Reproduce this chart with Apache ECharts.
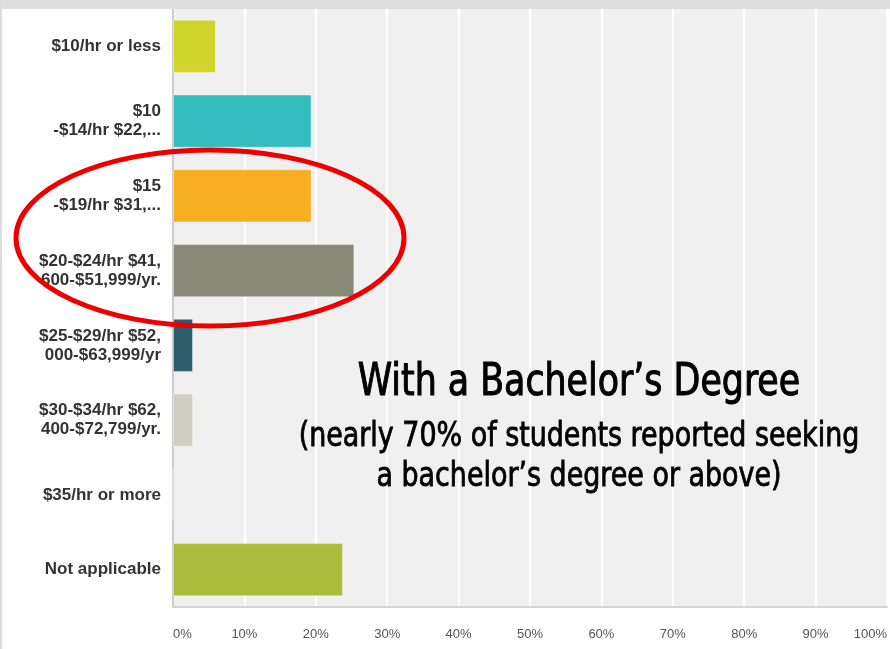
<!DOCTYPE html>
<html>
    <head>
        <meta charset="utf-8">
        <title></title>
        <style>
            html, body{
                margin: 0;
                padding: 0;
                background: #ffffff;
            }
            #div{
                width: 890px;
                height: 649px;
            }
        </style>
    </head>
    <body>
        <div id="div"></div>
        <script src="https://cdn.jsdelivr.net/npm/echarts@6/dist/echarts.min.js"></script>
        <script>
            var categories = [
                '$10/hr or less',
                '$10\n-$14/hr $22,...',
                '$15\n-$19/hr $31,...',
                '$20-$24/hr $41,\n600-$51,999/yr.',
                '$25-$29/hr $52,\n000-$63,999/yr',
                '$30-$34/hr $62,\n400-$72,799/yr.',
                '$35/hr or more',
                'Not applicable'
            ];
            var values = [6.0, 19.4, 19.4, 25.4, 2.8, 2.8, 0, 23.8];
            var tickLabels = ['0%', '10%', '20%', '30%', '40%', '50%', '60%', '70%', '80%', '90%', '100%'];
            var palette = ['#cfd52b', '#34bdbf', '#f7ae22', '#8a8a7a', '#2e5e6b', '#d0cec0', '#999999', '#aabd3a'];

            var chartDom = document.getElementById('div');
            var myChart = echarts.init(chartDom);
            var option;

            option = {
                backgroundColor: '#ffffff',
                animation: false,
                grid: {
                    left: 173,
                    right: 0,
                    top: 9,
                    bottom: 42,
                    show: true,
                    backgroundColor: '#f0f0f0',
                    borderWidth: 0
                },
                xAxis: {
                    type: 'value',
                    min: 0,
                    max: 100,
                    interval: 10,
                    axisLine: {show: true, lineStyle: {color: '#d4d4d4', width: 2}},
                    axisTick: {show: false},
                    splitLine: {show: true, lineStyle: {color: '#ffffff', width: 2}},
                    axisLabel: {
                        margin: 21,
                        color: '#555555',
                        fontFamily: 'Liberation Sans',
                        fontSize: 13,
                        alignMinLabel: 'left',
                        alignMaxLabel: 'right',
                        formatter: function (v) { return tickLabels[Math.round(v / 10)]; }
                    }
                },
                yAxis: {
                    type: 'category',
                    inverse: true,
                    data: categories,
                    axisLine: {show: true, lineStyle: {color: '#cccccc', width: 2}},
                    axisTick: {show: false},
                    axisLabel: {
                        margin: 12,
                        color: '#333333',
                        fontFamily: 'Liberation Sans',
                        fontWeight: 'bold',
                        fontSize: 17,
                        lineHeight: 19,
                        align: 'right'
                    }
                },
                series: [
                    {
                        type: 'bar',
                        data: values,
                        barCategoryGap: '29%',
                        itemStyle: {
                            color: function (p) { return palette[p.dataIndex]; },
                            borderColor: 'rgba(255,255,255,0.35)',
                            borderWidth: 1
                        }
                    }
                ],
                graphic: [
                    {type: 'rect', left: 0, top: 0, shape: {width: 890, height: 9}, style: {fill: '#dedede'}, z: 10},
                    {type: 'rect', left: 0, top: 0, shape: {width: 2, height: 649}, style: {fill: '#dcdcdc'}, z: 10},
                    {
                        type: 'ellipse',
                        shape: {cx: 210, cy: 238, rx: 194, ry: 88},
                        style: {fill: 'none', stroke: '#ee0000', lineWidth: 5},
                        z: 20
                    },
                    {
                        type: 'text',
                        x: 579, y: 383,
                        scaleX: 0.86,
                        style: {
                            text: 'With a Bachelor\u2019s Degree',
                            fontFamily: 'DejaVu Sans Condensed, DejaVu Sans',
                            fontSize: 45,
                            fill: '#000000',
                            stroke: '#000000',
                            lineWidth: 1,
                            align: 'center',
                            verticalAlign: 'middle'
                        },
                        z: 20
                    },
                    {
                        type: 'text',
                        x: 579, y: 437,
                        scaleX: 0.88,
                        style: {
                            text: '(nearly 70% of students reported seeking',
                            fontFamily: 'DejaVu Sans Condensed, DejaVu Sans',
                            fontSize: 34,
                            fill: '#000000',
                            stroke: '#000000',
                            lineWidth: 0.8,
                            align: 'center',
                            verticalAlign: 'middle'
                        },
                        z: 20
                    },
                    {
                        type: 'text',
                        x: 579, y: 477,
                        scaleX: 0.88,
                        style: {
                            text: 'a bachelor\u2019s degree or above)',
                            fontFamily: 'DejaVu Sans Condensed, DejaVu Sans',
                            fontSize: 34,
                            fill: '#000000',
                            stroke: '#000000',
                            lineWidth: 0.8,
                            align: 'center',
                            verticalAlign: 'middle'
                        },
                        z: 20
                    }
                ]
            };

            option && myChart.setOption(option);
        </script>
    </body>
</html>
